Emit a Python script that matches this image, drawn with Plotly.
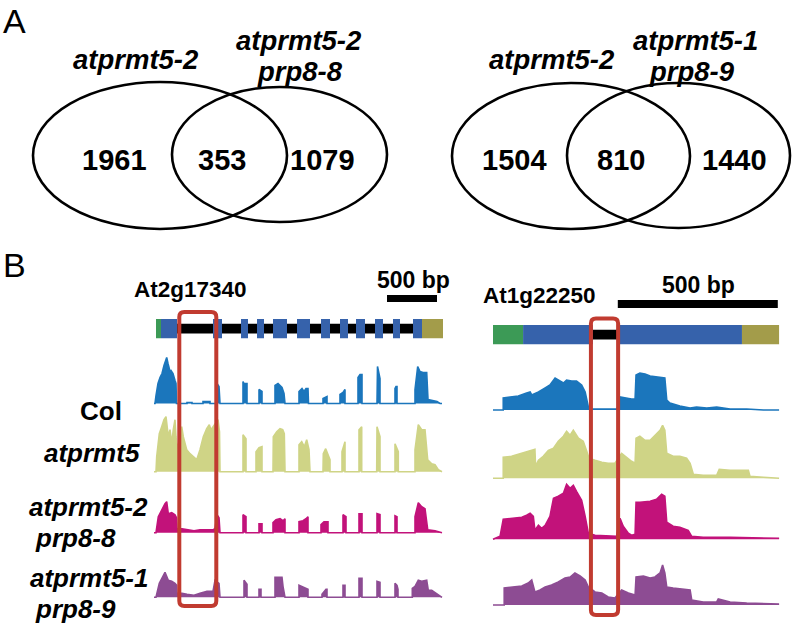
import plotly.graph_objects as go

W, H = 796, 627
def fx(p): return p / W
def fy(p): return 1 - p / H

FONT = "Liberation Sans, Arial, sans-serif"

# ---------------- data ----------------
venn1_counts = [1961, 353, 1079]
venn2_counts = [1504, 810, 1440]
venn1_sets = ["atprmt5-2", "atprmt5-2", "prp8-8"]
venn2_sets = ["atprmt5-2", "atprmt5-1", "prp8-9"]

row_labels = ["Col", "atprmt5", "atprmt5-2", "prp8-8", "atprmt5-1", "prp8-9"]
track_colors = ["#1b76bc", "#cfd486", "#c2127a", "#8d4c93"]

gene1_name = "At2g17340"
gene2_name = "At1g22250"
scale_bp = 500

# gene 1 model (bp)
g1_utr5 = (20, 70)
g1_exon_starts = [70, 590, 870, 1030, 1190, 1430, 1670, 1860, 2020, 2210, 2390, 2590]
g1_exon_ends = [230, 680, 940, 1100, 1330, 1560, 1760, 1940, 2110, 2290, 2460, 2680]
g1_utr3 = (2680, 2890)
g1_intron_span = (230, 2680)
g1_retained = (253, 623)
g1_scale = (2330, 2830)

# gene 2 model (bp)
g2_utr5 = (0, 94)
g2_exon_starts = [94, 388]
g2_exon_ends = [312, 778]
g2_utr3 = (778, 894)
g2_intron_span = (312, 388)
g2_retained = (306, 391)
g2_scale = (390, 890)

# coverage (bp, coverage)
g1_col = [(0,0),(10,0),(20,8),(40,20),(60,26),(80,30),(100,38),(110,42),(127,46),(140,40),(160,32),(170,33),(190,30),(210,23),(220,20),(225,0),(330,0),(330,1),(380,1),(380,0),(490,0),(490,2),(560,2),(560,0),(625,0),(630,20),(650,17),(660,0),(890,0),(890,22),(900,20),(930,20),(930,0),(1050,0),(1050,14),(1080,12),(1080,0),(1210,0),(1210,18),(1240,20),(1280,16),(1300,10),(1310,0),(1450,0),(1450,12),(1480,15),(1500,12),(1520,15),(1540,15),(1545,0),(1690,0),(1690,5),(1730,7),(1730,0),(1860,0),(1860,9),(1890,11),(1910,14),(1910,0),(2040,0),(2040,26),(2060,29),(2080,29),(2080,0),(2230,0),(2235,37),(2250,30),(2260,25),(2260,0),(2410,0),(2410,15),(2420,17),(2430,17),(2430,0),(2610,0),(2610,14),(2637,37),(2660,32),(2690,31),(2727,31),(2740,4),(2830,2),(2860,0),(2880,0)]
g1_prmt5 = [(0,0),(20,0),(27,15),(53,38),(77,45),(100,52),(120,55),(143,35),(160,42),(177,28),(193,42),(210,52),(220,35),(233,22),(260,35),(277,45),(293,35),(327,22),(360,18),(393,15),(427,12),(460,22),(493,35),(527,43),(553,47),(570,42),(590,45),(620,50),(640,52),(655,40),(660,0),(890,0),(890,37),(905,35),(920,33),(920,0),(1020,0),(1020,20),(1050,24),(1080,25),(1080,0),(1190,0),(1193,35),(1227,40),(1260,43),(1287,42),(1303,38),(1310,0),(1450,0),(1450,27),(1477,30),(1503,25),(1527,32),(1550,22),(1560,0),(1690,0),(1693,18),(1717,23),(1743,17),(1760,12),(1760,0),(1880,0),(1880,20),(1910,30),(1910,0),(2050,0),(2050,42),(2070,45),(2077,45),(2077,0),(2227,0),(2230,45),(2245,40),(2260,35),(2260,0),(2410,0),(2410,28),(2425,24),(2443,20),(2443,0),(2610,0),(2610,22),(2643,47),(2677,42),(2710,42),(2737,12),(2777,8),(2810,7),(2843,2),(2880,0)]
g1_p8_8 = [(0,0),(20,0),(43,16),(77,23),(110,29),(127,31),(143,19),(177,20),(210,18),(225,15),(230,4),(280,4),(330,3),(400,2),(460,3),(530,3),(590,3),(610,4),(630,18),(650,15),(660,0),(890,0),(890,18),(920,16),(920,0),(1050,0),(1050,9),(1080,9),(1080,0),(1190,0),(1190,10),(1220,13),(1260,14),(1290,12),(1310,14),(1310,0),(1450,0),(1450,11),(1490,12),(1520,14),(1540,16),(1540,0),(1670,0),(1670,8),(1700,11),(1740,11),(1740,0),(1890,0),(1890,18),(1920,16),(1920,0),(2050,0),(2050,19),(2080,19),(2080,0),(2230,0),(2230,19),(2260,18),(2260,0),(2410,0),(2410,17),(2430,16),(2430,0),(2610,0),(2610,16),(2643,30),(2677,26),(2710,24),(2737,3),(2810,2),(2860,0),(2880,0)]
g1_p8_9 = [(0,0),(20,0),(53,14),(93,21),(110,25),(143,17),(177,16),(210,14),(227,12),(230,4),(280,4),(330,3),(400,2),(460,4),(530,6),(590,6),(610,17),(650,14),(660,0),(900,0),(900,17),(930,13),(930,0),(1050,0),(1050,8),(1070,8),(1070,0),(1210,0),(1210,20),(1280,20),(1290,11),(1310,0),(1450,0),(1450,12),(1500,10),(1540,8),(1540,0),(1680,0),(1680,3),(1720,8),(1730,8),(1730,0),(1890,0),(1890,12),(1910,12),(1910,0),(2050,0),(2050,19),(2080,19),(2080,0),(2230,0),(2230,16),(2260,15),(2260,0),(2410,0),(2410,14),(2430,12),(2440,8),(2440,0),(2583,0),(2583,9),(2610,11),(2643,17),(2677,16),(2727,17),(2743,7),(2777,7),(2843,2),(2880,0)]

g2_col = [(0,0),(32,0),(32,12),(58,13),(79,14),(105,17),(116,18),(121,15),(142,18),(163,22),(178,25),(194,32),(204,30),(220,27),(230,30),(246,29),(261,29),(277,25),(288,18),(298,3),(303,1),(340,1),(388,1),(397,13),(413,12),(433,11),(444,11),(447,35),(459,37),(475,36),(491,34),(522,33),(537,32),(543,10),(553,7),(584,4),(616,2),(636,3),(668,2),(699,3),(720,2),(741,1),(793,1),(845,0),(894,0)]
g2_prmt5 = [(0,0),(32,0),(32,21),(58,22),(79,24),(110,27),(131,29),(133,12),(142,18),(157,22),(173,28),(189,30),(204,37),(220,42),(230,47),(241,43),(251,48),(267,40),(282,37),(293,27),(300,20),(319,18),(340,16),(360,15),(381,15),(402,25),(413,22),(433,17),(444,15),(447,40),(459,42),(475,38),(491,38),(506,43),(522,48),(530,53),(537,48),(543,25),(563,22),(584,22),(605,20),(616,15),(626,4),(657,3),(699,3),(707,9),(741,8),(798,8),(803,2),(845,1),(894,0)]
g2_p8_8 = [(0,0),(22,3),(32,20),(58,21),(90,22),(105,24),(116,26),(126,23),(131,9),(142,14),(152,11),(163,14),(178,23),(189,41),(204,43),(220,46),(230,55),(241,51),(251,54),(261,48),(277,39),(288,23),(298,6),(319,4),(360,3),(386,3),(397,21),(407,13),(423,6),(433,4),(444,5),(447,37),(459,37),(491,38),(511,40),(527,45),(537,43),(543,17),(563,13),(584,12),(610,9),(621,3),(657,2),(741,2),(894,1)]
g2_p8_9 = [(0,0),(35,0),(35,17),(58,18),(90,19),(110,22),(121,25),(131,13),(147,15),(163,18),(183,20),(204,23),(225,27),(241,28),(256,32),(272,29),(288,25),(298,18),(319,13),(340,12),(360,8),(381,7),(402,15),(423,12),(444,10),(447,28),(470,29),(491,27),(506,28),(522,32),(530,40),(537,32),(543,18),(563,17),(595,16),(616,15),(621,5),(657,3),(699,3),(704,6),(741,3),(793,2),(894,1)]

g1_tracks = [g1_col, g1_prmt5, g1_p8_8, g1_p8_9]
g2_tracks = [g2_col, g2_prmt5, g2_p8_8, g2_p8_9]

# ---------------- layout geometry (pixels) ----------------
g1_base = [403.5, 471.7, 532.7, 597.3]
g2_base = [410, 478.3, 539.3, 605]
TRACK_H = 60

fig = go.Figure()

GREEN, BLUE, OLIVE = "#3c9a56", "#3662ab", "#a39c4a"
RED = "#c13b30"

def bars(xa, ya, starts, ends, color, width):
    fig.add_trace(go.Bar(
        base=list(starts), x=[e - s for s, e in zip(starts, ends)],
        y=[0] * len(starts), width=[width] * len(starts), orientation="h",
        marker=dict(color=color, line=dict(width=0)),
        xaxis=xa, yaxis=ya, showlegend=False, hoverinfo="skip"))

# gene 1
bars("x", "y", [g1_intron_span[0]], [g1_intron_span[1]], "black", 0.5)
bars("x", "y", [g1_utr5[0]], [g1_utr5[1]], GREEN, 1.0)
bars("x", "y", g1_exon_starts, g1_exon_ends, BLUE, 1.0)
bars("x", "y", [g1_utr3[0]], [g1_utr3[1]], OLIVE, 1.0)
# gene 2
bars("x2", "y2", [g2_utr5[0]], [g2_utr5[1]], GREEN, 1.0)
bars("x2", "y2", g2_exon_starts, g2_exon_ends, BLUE, 1.0)
bars("x2", "y2", [g2_utr3[0]], [g2_utr3[1]], OLIVE, 1.0)
bars("x2", "y2", [g2_intron_span[0]], [g2_intron_span[1]], "black", 0.5)

X1_RANGE = [-40, 2960]     # 300 px wide -> 10 bp / px
X2_RANGE = [-25, 912.5]    # 300 px wide -> 3.125 bp / px
layout_axes = {}
layout_axes["xaxis"] = dict(domain=[fx(150), fx(450)], range=X1_RANGE, visible=False, fixedrange=True)
layout_axes["xaxis2"] = dict(domain=[fx(485), fx(785)], range=X2_RANGE, visible=False, fixedrange=True)
layout_axes["yaxis"] = dict(domain=[fy(338.5), fy(319)], range=[-0.5, 0.5], anchor="x", visible=False, fixedrange=True)
layout_axes["yaxis2"] = dict(domain=[fy(344.5), fy(325)], range=[-0.5, 0.5], anchor="x2", visible=False, fixedrange=True)

ax = 3
for tracks, bases, xa in [(g1_tracks, g1_base, "x"), (g2_tracks, g2_base, "x2")]:
    for tr, b, c in zip(tracks, bases, track_colors):
        xs = [p[0] for p in tr]
        ys = [p[1] for p in tr]
        fig.add_trace(go.Scatter(x=xs, y=ys, mode="lines", line=dict(color=c, width=1.6),
                                 fill="tozeroy", fillcolor=c, xaxis=xa, yaxis=f"y{ax}",
                                 showlegend=False, hoverinfo="skip"))
        layout_axes[f"yaxis{ax}"] = dict(domain=[fy(b + 1.5), fy(b - TRACK_H + 1.5)],
                                         range=[-1.5, TRACK_H - 1.5], anchor=xa,
                                         visible=False, fixedrange=True)
        ax += 1

shapes = []
# Venn ellipses (pixel boxes)
venn_ellipses = [(33, 82, 287, 229), (172, 87, 387, 222), (452, 83, 690, 229), (567, 83, 790, 228)]
for x0, y0, x1, y1 in venn_ellipses:
    shapes.append(dict(type="circle", xref="paper", yref="paper", x0=fx(x0), x1=fx(x1),
                       y0=fy(y1), y1=fy(y0), line=dict(color="black", width=2.6)))

def rounded_box(xref, x0, x1, ytop_px, ybot_px, bp_per_px, r_px=5):
    rx = r_px * bp_per_px
    t, b = fy(ytop_px), fy(ybot_px)
    ry = r_px / H
    path = (f"M {x0 + rx},{t} L {x1 - rx},{t} Q {x1},{t} {x1},{t - ry} "
            f"L {x1},{b + ry} Q {x1},{b} {x1 - rx},{b} "
            f"L {x0 + rx},{b} Q {x0},{b} {x0},{b + ry} "
            f"L {x0},{t - ry} Q {x0},{t} {x0 + rx},{t} Z")
    return dict(type="path", xref=xref, yref="paper", path=path, line=dict(color=RED, width=4))

# retained intron boxes
shapes.append(rounded_box("x", g1_retained[0], g1_retained[1], 312, 606,
                          (X1_RANGE[1] - X1_RANGE[0]) / 300))
shapes.append(rounded_box("x2", g2_retained[0], g2_retained[1], 318.5, 615,
                          (X2_RANGE[1] - X2_RANGE[0]) / 300))
# scale bars
shapes.append(dict(type="line", xref="x", yref="paper", x0=g1_scale[0], x1=g1_scale[1],
                   y0=fy(298.5), y1=fy(298.5), line=dict(color="black", width=7)))
shapes.append(dict(type="line", xref="x2", yref="paper", x0=g2_scale[0], x1=g2_scale[1],
                   y0=fy(304), y1=fy(304), line=dict(color="black", width=8)))

ann = []
def text(t, x, y, size, bold=True, italic=False):
    s = t
    if italic:
        s = f"<i>{s}</i>"
    if bold:
        s = f"<b>{s}</b>"
    ann.append(dict(text=s, x=fx(x), y=fy(y), xref="paper", yref="paper", showarrow=False,
                    xanchor="center", yanchor="middle", font=dict(family=FONT, size=size, color="black")))

text("A", 15, 21, 34, bold=False)
text("B", 15, 265, 34, bold=False)

# venn labels
text(venn1_sets[0], 136, 59, 27.5, italic=True)
text(venn1_sets[1], 299, 41, 27.5, italic=True)
text(venn1_sets[2], 300, 71, 27.5, italic=True)
text(venn2_sets[0], 552, 59, 27.5, italic=True)
text(venn2_sets[1], 695, 41, 27.5, italic=True)
text(venn2_sets[2], 692, 71, 27.5, italic=True)
for v, x in zip(venn1_counts, [115, 222, 322]):
    text(str(v), x, 160, 29)
for v, x in zip(venn2_counts, [514, 621, 734]):
    text(str(v), x, 160, 29)

# gene labels
text(gene1_name, 190, 289, 22.5)
text(f"{scale_bp} bp", 413, 280, 23)
text(gene2_name, 539, 295, 22.5)
text(f"{scale_bp} bp", 698, 285, 23)

# row labels
text(row_labels[0], 101, 411, 26)
text(row_labels[1], 92, 453, 26, italic=True)
text(row_labels[2], 88, 507, 26, italic=True)
text(row_labels[3], 75, 538, 26, italic=True)
text(row_labels[4], 89, 578, 26, italic=True)
text(row_labels[5], 75, 609, 26, italic=True)

fig.update_layout(width=W, height=H, margin=dict(l=0, r=0, t=0, b=0),
                  paper_bgcolor="white", plot_bgcolor="rgba(0,0,0,0)",
                  barmode="overlay", showlegend=False, shapes=shapes, annotations=ann,
                  **layout_axes)

fig.write_html("out.html", config={"displayModeBar": False},
               post_script="document.body.style.margin='0px';document.body.style.overflow='hidden';")
